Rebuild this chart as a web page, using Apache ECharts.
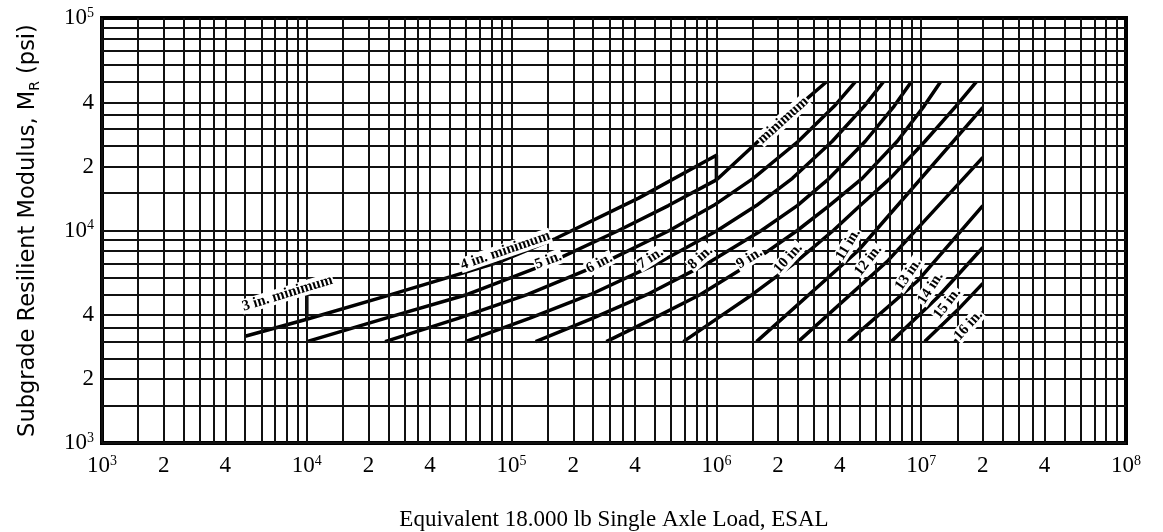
<!DOCTYPE html>
<html>
<head>
<meta charset="utf-8">
<title>Full-depth asphalt thickness chart</title>
<script src="https://cdn.jsdelivr.net/npm/echarts@6/dist/echarts.min.js"></script>
<style>
  html, body { margin: 0; padding: 0; background: #fff; }
  #chart { width: 1163px; height: 532px; }
</style>
</head>
<body>
<div id="chart"></div>
<script>
// thickness lines: [ESAL, MR (psi)]
const line3inMin = [[5000, 4250], [10000, 5100], [10000, 3800]];
const line4inMin = [[5000, 3180], [10000, 3820], [24100, 4900], [86100, 7080], [164000, 9170], [417000, 14200], [1000000, 22600], [1000000, 17300]];
const line5in = [[10000, 3000], [24100, 3860], [60800, 5000], [151000, 7000], [333000, 10000], [583000, 13100], [1000000, 17300], [1600000, 26300], [2510000, 38500], [3440000, 50000]];
const line6in = [[24100, 3000], [54800, 3860], [120000, 5000], [278000, 7000], [590000, 10000], [967000, 13100], [1514000, 17600], [2512000, 26300], [3767000, 38500], [4765000, 50000]];
const line7in = [[59400, 3000], [122000, 3860], [243000, 5000], [515000, 7000], [1011000, 10000], [1567000, 13100], [2350000, 17600], [3681000, 26300], [5272000, 38500], [6531000, 50000]];
const line8in = [[131000, 3000], [248000, 3860], [460000, 5000], [903000, 7000], [1659000, 10000], [2483000, 13100], [3557000, 17600], [5333000, 26300], [7382000, 38500], [8933000, 50000]];
const line9in = [[290000, 3000], [493000, 3860], [836000, 5000], [1466000, 7000], [2483000, 10000], [3557000, 13100], [5152000, 17600], [7640000, 26300], [10330000, 38500], [12420000, 50000]];
const line10in = [[690000, 3000], [1011000, 3860], [1499000, 5000], [2399000, 7000], [3723000, 10000], [5035000, 13100], [7062000, 17600], [10440000, 26300], [14790000, 38500], [18580000, 50000]];
const line11in = [[1570000, 3000], [4930000, 8050], [20000000, 38000]];
const line12in = [[2510000, 3000], [6900000, 7230], [20000000, 22100]];
const line13in = [[4400000, 3000], [9660000, 5820], [20000000, 13100]];
const line14in = [[7140000, 3000], [12000000, 4840], [20000000, 8320]];
const line15in = [[10400000, 3000], [15000000, 4210], [20000000, 5640]];
const line16in = [[14600000, 3000], [20000000, 4120]];

const lineLabelText = ['3 in. minimum', '4 in. minimum', 'minimum', '5 in.', '6 in.', '7 in.', '8 in.', '9 in.', '10 in.', '11 in.', '12 in.', '13 in.', '14 in.', '15 in.', '16 in.'];
const lineLabelEsal = [8040, 93300, 2120000, 151000, 268000, 476000, 836000, 1450000, 2240000, 4400000, 5510000, 8650000, 11100000, 13400000, 17000000];
const lineLabelMr = [5060, 8050, 33000, 7230, 7000, 7400, 7460, 7400, 7400, 8590, 7230, 6210, 5350, 4540, 3580];

const xTickValues = [1e3, 2e3, 4e3, 1e4, 2e4, 4e4, 1e5, 2e5, 4e5, 1e6, 2e6, 4e6, 1e7, 2e7, 4e7, 1e8];
const xTickText = ['10{s|3}', '2', '4', '10{s|4}', '2', '4', '10{s|5}', '2', '4', '10{s|6}', '2', '4', '10{s|7}', '2', '4', '10{s|8}'];
const yTickValues = [1e3, 2e3, 4e3, 1e4, 2e4, 4e4, 1e5];
const yTickText = ['10{s|3}', '2', '4', '10{s|4}', '2', '4', '10{s|5}'];

// graph-paper rulings inside each decade
const gridSteps = [1, 1.5, 2, 2.5, 3, 3.5, 4, 5, 6, 7, 8, 9];
const xDecades = [1e3, 1e4, 1e5, 1e6, 1e7];
const yDecades = [1e3, 1e4];

const labelTilt = [17, 19, 42, 20, 28, 33, 42, 32, 48, 58, 52, 55, 57, 52, 48];

const chart = echarts.init(document.getElementById('chart'));

const xRulings = [];
xDecades.forEach((d) => gridSteps.forEach((s) => xRulings.push({ xAxis: d * s })));
const yRulings = [];
yDecades.forEach((d) => gridSteps.forEach((s) => yRulings.push({ yAxis: d * s })));

const tickRich = {
  s: { fontSize: 14, fontFamily: 'Liberation Serif', color: '#000', verticalAlign: 'top', lineHeight: 24 }
};

const thicknessLines = [line3inMin, line4inMin, line5in, line6in, line7in, line8in, line9in,
  line10in, line11in, line12in, line13in, line14in, line15in, line16in];

const series = [
  {
    type: 'line',
    data: [],
    silent: true,
    z: 1,
    markLine: {
      silent: true,
      symbol: 'none',
      animation: false,
      label: { show: false },
      lineStyle: { type: 'solid', color: '#111', width: 2 },
      data: xRulings.concat(yRulings)
    }
  }
];

thicknessLines.forEach((pts) => {
  series.push({
    type: 'line',
    data: pts,
    showSymbol: false,
    smooth: false,
    silent: true,
    z: 3,
    lineStyle: { color: '#000', width: 3.5, join: 'round' }
  });
});

series.push({
  type: 'scatter',
  symbolSize: 0,
  silent: true,
  z: 5,
  itemStyle: { opacity: 1 },
  data: lineLabelEsal.map((v, i) => [v, lineLabelMr[i]]),
  label: {
    show: true,
    position: 'inside',
    formatter: (p) => lineLabelText[p.dataIndex],
    fontFamily: 'Liberation Serif',
    fontWeight: 'bold',
    fontSize: 15,
    color: '#000',
    textBorderWidth: 0,
    backgroundColor: '#fff',
    padding: [0, 1]
  },
  labelLayout: (p) => ({ rotate: labelTilt[p.dataIndex] })
});

series.push({
  type: 'scatter',
  symbolSize: 0,
  silent: true,
  clip: false,
  itemStyle: { opacity: 1 },
  data: xTickValues.map((v) => [v, 1000]),
  label: {
    show: true,
    position: 'bottom',
    distance: 11,
    formatter: (p) => xTickText[p.dataIndex],
    fontFamily: 'Liberation Serif',
    fontSize: 23,
    lineHeight: 24,
    color: '#000',
    textBorderWidth: 0,
    rich: tickRich
  }
});

series.push({
  type: 'scatter',
  symbolSize: 0,
  silent: true,
  clip: false,
  itemStyle: { opacity: 1 },
  data: yTickValues.map((v) => [1000, v]),
  label: {
    show: true,
    position: 'left',
    distance: 8,
    formatter: (p) => yTickText[p.dataIndex],
    fontFamily: 'Liberation Serif',
    fontSize: 23,
    lineHeight: 24,
    color: '#000',
    textBorderWidth: 0,
    rich: tickRich
  }
});

chart.setOption({
  animation: false,
  backgroundColor: '#fff',
  grid: {
    left: 102,
    top: 18,
    width: 1024,
    height: 425,
    outerBoundsMode: 'none',
    show: true,
    borderColor: '#000',
    borderWidth: 4,
    backgroundColor: 'transparent'
  },
  xAxis: {
    type: 'log',
    logBase: 10,
    min: 1e3,
    max: 1e8,
    axisLabel: { show: false },
    axisTick: { show: false },
    axisLine: { show: false },
    splitLine: { show: false },
    name: 'Equivalent 18.000 lb Single Axle Load, ESAL',
    nameLocation: 'middle',
    nameGap: 65,
    nameTextStyle: { fontFamily: 'Liberation Serif', fontSize: 23, color: '#000' }
  },
  yAxis: {
    type: 'log',
    logBase: 10,
    min: 1e3,
    max: 1e5,
    axisLabel: { show: false },
    axisTick: { show: false },
    axisLine: { show: false },
    splitLine: { show: false },
    name: 'Subgrade Resilient Modulus, M{sub|R} (psi)',
    nameLocation: 'middle',
    nameRotate: 90,
    nameGap: 60,
    nameTextStyle: {
      fontFamily: 'DejaVu Sans',
      fontSize: 22.5,
      color: '#000',
      rich: {
        sub: { fontFamily: 'DejaVu Sans', fontSize: 14, color: '#000', verticalAlign: 'bottom', lineHeight: 28 }
      }
    }
  },
  series: series
});
</script>
</body>
</html>
